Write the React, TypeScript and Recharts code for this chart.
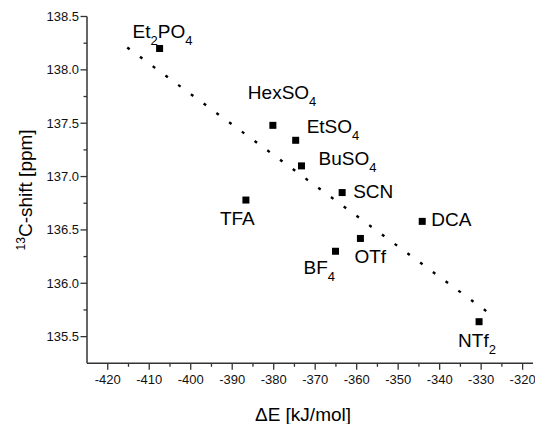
import React from 'react';
import {
  ComposedChart,
  Line,
  XAxis,
  YAxis,
  Scatter,
} from 'recharts';

// anion, interaction energy and 13C shift
const anions = ['Et2PO4', 'HexSO4', 'EtSO4', 'BuSO4', 'SCN', 'TFA', 'DCA', 'OTf', 'BF4', 'NTf2'];
const deltaE = [-407.5, -380.2, -374.7, -373.3, -363.5, -386.7, -344.2, -359.1, -365.1, -330.5];
const shift = [138.2, 137.48, 137.34, 137.1, 136.85, 136.78, 136.58, 136.42, 136.3, 135.64];

// linear fit endpoints
const fitX = [-415.3, -326.7];
const fitY = [138.21, 135.68];

const xMajor = [-420, -410, -400, -390, -380, -370, -360, -350, -340, -330, -320];
const xMinor = [-415, -405, -395, -385, -375, -365, -355, -345, -335, -325];
const yMajor = [135.5, 136.0, 136.5, 137.0, 137.5, 138.0, 138.5];
const yMinor = [135.75, 136.25, 136.75, 137.25, 137.75, 138.25];

const FONT = '"Liberation Sans", Arial, sans-serif';

// where each label sits relative to its marker (text start, baseline)
const labelPos: Record<string, { dx: number; dy: number }> = {
  Et2PO4: { dx: -27, dy: -11 },
  HexSO4: { dx: -25, dy: -26 },
  EtSO4: { dx: 11, dy: -7 },
  BuSO4: { dx: 17, dy: -1 },
  SCN: { dx: 11, dy: 5 },
  TFA: { dx: -26, dy: 25 },
  DCA: { dx: 9, dy: 5 },
  OTf: { dx: -6, dy: 25 },
  BF4: { dx: -32, dy: 23 },
  NTf2: { dx: -21, dy: 25 },
};

const points = anions.map((name, i) => ({ name, x: deltaE[i], y: shift[i] }));
const fitLine = fitX.map((x, i) => ({ x, y: fitY[i] }));

const Chem = ({ text }: { text: string }) => {
  const parts = text.split(/(\d+)/).filter((p) => p !== '');
  let down = false;
  return (
    <>
      {parts.map((p, i) => {
        const isSub = /^\d+$/.test(p);
        let dy = 0;
        if (isSub && !down) { dy = 7; down = true; }
        else if (!isSub && down) { dy = -7; down = false; }
        return (
          <tspan key={i} dy={dy} fontSize={isSub ? 13 : 19}>{p}</tspan>
        );
      })}
    </>
  );
};

const PointShape = (props: any) => {
  const { cx, cy, payload } = props;
  const pos = labelPos[payload.name];
  return (
    <g>
      <rect x={cx - 3.5} y={cy - 3.5} width={7} height={7} fill="#000" />
      <text x={cx + pos.dx} y={cy + pos.dy} fontFamily={FONT} fontSize={19} fill="#000">
        <Chem text={payload.name} />
      </text>
    </g>
  );
};

const XTick = (props: any) => {
  const { x, y, payload } = props;
  const major = xMajor.includes(payload.value);
  return (
    <g>
      <line x1={x} x2={x} y1={y} y2={y + (major ? 6.5 : 3.5)} stroke="#333" strokeWidth={1.3} />
      {major && (
        <text x={x} y={y + 21} textAnchor="middle" fontFamily={FONT} fontSize={13} fill="#111">
          {payload.value}
        </text>
      )}
    </g>
  );
};

const YTick = (props: any) => {
  const { x, y, payload } = props;
  const major = yMajor.includes(payload.value);
  return (
    <g>
      <line x1={x} x2={x - (major ? 6.5 : 3.5)} y1={y} y2={y} stroke="#333" strokeWidth={1.3} />
      {major && (
        <text x={x - 8} y={y + 4.5} textAnchor="end" fontFamily={FONT} fontSize={13} fill="#111">
          {payload.value.toFixed(1)}
        </text>
      )}
    </g>
  );
};

const XTitle = (props: any) => {
  const { viewBox } = props;
  return (
    <text x={viewBox.x + viewBox.width / 2 - 7} y={viewBox.y + 58} textAnchor="middle" fontFamily={FONT} fontSize={19} fill="#000">
      ΔE [kJ/mol]
    </text>
  );
};

const YTitle = (props: any) => {
  const { viewBox } = props;
  const cx = viewBox.x + 32;
  const cy = viewBox.y + viewBox.height / 2;
  return (
    <text x={cx} y={cy} transform={`rotate(-90 ${cx} ${cy})`} textAnchor="middle" fontFamily={FONT} fontSize={19} fill="#000">
      <tspan fontSize={12} dy={-7}>13</tspan>
      <tspan dy={7}>C-shift [ppm]</tspan>
    </text>
  );
};

export default function App() {
  return (
    <div style={{ position: 'absolute', left: 0, top: 0, background: '#fff' }}>
      <ComposedChart width={535} height={424} margin={{ top: 16.5, right: 2, bottom: 0, left: 0 }}>
        <XAxis
          type="number"
          dataKey="x"
          domain={[-425, -317.5]}
          ticks={[...xMajor, ...xMinor].sort((a, b) => a - b)}
          interval={0}
          allowDataOverflow
          height={60.7}
          tickSize={0}
          tickMargin={0}
          tickLine={false}
          axisLine={{ stroke: '#333', strokeWidth: 1.5 }}
          tick={<XTick />}
          label={<XTitle />}
        />
        <YAxis
          type="number"
          dataKey="y"
          domain={[135.25, 138.5]}
          ticks={[...yMajor, ...yMinor].sort((a, b) => a - b)}
          interval={0}
          allowDataOverflow
          width={87}
          tickSize={0}
          tickMargin={0}
          tickLine={false}
          axisLine={{ stroke: '#333', strokeWidth: 1.5 }}
          tick={<YTick />}
          label={<YTitle />}
        />
        <Line
          data={fitLine}
          dataKey="y"
          stroke="#000"
          strokeWidth={2.4}
          strokeDasharray="3 12.8"
          dot={false}
          activeDot={false}
          isAnimationActive={false}
        />
        <Scatter data={points} dataKey="y" shape={<PointShape />} isAnimationActive={false} />
      </ComposedChart>
    </div>
  );
}
